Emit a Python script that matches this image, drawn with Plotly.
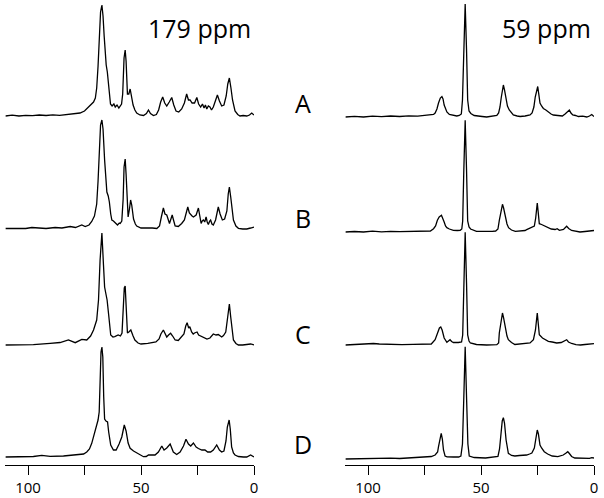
import plotly.graph_objects as go

# ---------------- data (ppm, intensity) ----------------
row_labels = ["A", "B", "C", "D"]
column_titles = ["179 ppm", "59 ppm"]
tick_vals = [0, 25, 50, 75, 100]
tick_text = ["0", "", "50", "", "100"]

left_A_ppm = [110, 107, 104, 101, 98, 95, 92, 89, 86, 83, 80, 77, 75, 73.5, 72.5, 71, 70.2, 69.6, 69, 68.4, 67.9, 67.3, 66.8, 66.3, 65.8, 65.4, 64.9, 64.4, 63.9, 63.5, 62.8, 62, 61.4, 60.6, 59.8, 59.2, 58.6, 58.1, 57.5, 57.0, 56.6, 56.0, 55.4, 54.8, 54.2, 53.5, 52.7, 51.9, 50.5, 48.9, 47.6, 46.7, 45.8, 44.5, 43.2, 42.2, 41.3, 40.4, 39.5, 38.6, 37.5, 36.4, 35.5, 34.5, 33.3, 32.0, 30.8, 29.8, 29.0, 28.3, 27.4, 26.3, 25.3, 24.5, 23.6, 22.8, 22.1, 21.5, 20.9, 20.2, 19.5, 18.8, 18.0, 17.0, 16.2, 15.3, 14.3, 13.3, 12.3, 11.6, 10.9, 10.2, 9.5, 8.4, 7.2, 6.2, 4.8, 3.2, 2.0, 1.0, 0]
left_A_int = [0, 0.8, 0, 0.7, 0.3, 1, 0.5, 1.2, 0.6, 1.5, 2, 3, 5, 8, 10, 14, 18, 28, 50, 83, 104, 111, 100, 80, 58, 51, 44, 32, 18, 12, 10, 12, 9, 11, 8, 10, 12, 22, 58, 66, 55, 22, 22, 27, 20, 11, 6, 3, 1, 0.5, 2.5, 6, 2.5, 0.5, 1.5, 6, 14, 19, 13, 10, 14, 18.5, 11, 5, 4, 7, 13, 22, 16, 16, 13, 13, 18.5, 12, 9, 12, 8, 11, 7, 10, 9, 6, 9, 15, 21, 15, 10, 11, 20, 32, 38, 28, 16, 5, 1.5, 0, 0.5, 0, 1, 3, 1]

left_B_ppm = [110, 107, 104, 101, 98.3, 95, 92, 88, 85, 81.3, 79, 76.2, 74.7, 73, 71.8, 70.6, 69.6, 69, 68.4, 67.9, 67.3, 66.8, 66.1, 65.5, 65.1, 64.5, 64, 63.4, 62.9, 62.2, 61.4, 60.4, 59.6, 59.2, 58.5, 57.9, 57.5, 57.0, 56.6, 56.1, 55.7, 55.1, 54.6, 54.1, 53.3, 52.5, 51.9, 50, 48, 46.7, 45, 43, 41.8, 41, 40.1, 39.4, 38.6, 37.4, 36.8, 36.2, 35.5, 34.9, 33.5, 32, 30.8, 30, 29.3, 28.6, 28.0, 27.4, 26.8, 25.6, 24.6, 23.9, 23.4, 22.9, 22.4, 21.8, 21.2, 20.7, 20.2, 19.6, 19.2, 18.6, 18, 17.0, 15.8, 15.0, 14.0, 13.0, 12.0, 11.4, 10.9, 10.3, 9.7, 9.1, 8.0, 6.9, 5, 3.2, 1.5, 0]
left_B_int = [0.5, 0.3, 0.8, 0.5, 1.5, 0.8, 0.5, 1.5, 1, 2.5, 1.5, 4, 2.5, 4, 7.5, 13, 25, 48, 82, 104, 109, 100, 69, 45, 37, 33, 27, 15, 9, 8, 6, 4, 6, 5.5, 8, 30, 62, 70, 55, 20, 12, 20, 29, 24, 10, 5, 3, 1, 1, 1.5, 1, 0.5, 3, 12, 21, 15, 14, 5.5, 10, 14, 8, 3, 2.5, 5.5, 9, 17, 22, 16, 14, 13, 12, 14, 21, 11, 5.5, 8, 9, 7, 12, 7, 4.5, 8, 9, 5, 4, 9, 22, 15, 9, 10, 18, 35, 42, 32, 18, 9, 3, 0.7, 0, 0, 1, 2]

left_C_ppm = [110, 103.5, 97.6, 90.2, 85.8, 82.1, 79.1, 76.2, 74, 72.3, 71.0, 69.6, 68.8, 68.1, 67.3, 66.6, 66.1, 65.6, 65.0, 64.3, 63.4, 62.4, 61.6, 60.1, 59.1, 58.4, 57.9, 57.4, 57.0, 56.5, 56.0, 55.4, 54.5, 53.5, 52.7, 51.3, 50, 47, 43.4, 42, 41.2, 40.1, 39.3, 38.6, 37.8, 36.9, 36.0, 34.9, 33.5, 32, 31, 30.2, 29.6, 28.9, 28.4, 27.6, 26.9, 26.3, 25.2, 24.5, 23.6, 22, 20.8, 19.5, 18.0, 16.8, 15.8, 14.3, 13.5, 12.5, 11.6, 10.9, 10.3, 9.6, 9.1, 8.0, 6.9, 5, 3.2, 1.5, 0]
left_C_int = [0, 0.5, 0.3, 1.7, 2.5, 5, 2.3, 5.7, 5, 9, 15, 25, 45, 85, 112, 80, 58, 52, 45, 30, 10, 8, 8.3, 10, 9, 12, 35, 57, 59, 25, 12, 13, 15, 9, 5, 2, 1, 1.7, 3, 6, 11, 15, 11, 8, 10, 11.7, 9, 5, 4.5, 8, 11, 19, 22.3, 17, 18.3, 13, 11, 12, 13, 10, 9, 7, 6, 7, 11, 10, 10.5, 8, 9.5, 13, 30, 41, 28, 12, 5, 1.5, 0, 0, 0.7, 1, 0]

left_D_ppm = [110, 103.4, 97.6, 93.9, 90.2, 84.3, 78.4, 75.4, 74.0, 72.8, 71.8, 70.6, 69.6, 69.0, 68.5, 68.1, 67.7, 67.3, 66.9, 66.5, 66.1, 65.5, 64.8, 64.3, 63.4, 62.2, 61.0, 59.7, 58.5, 57.4, 56.6, 55.7, 54.8, 53.3, 51.9, 50.4, 48.9, 47.7, 46.7, 45.2, 43.8, 42.3, 40.8, 39.8, 38.6, 37.1, 35.7, 34.2, 32.7, 31.2, 30.1, 29.0, 28.0, 26.8, 25.6, 24.6, 23.1, 21.7, 20.5, 19.2, 18.0, 16.5, 15.3, 14.3, 13.3, 12.4, 11.8, 11.0, 10.5, 9.9, 9.1, 8.4, 6.9, 4.7, 3.2, 1.5, 0]
left_D_int = [0, 0.5, 0.5, 1.7, 0.7, 1, 2, 3, 5, 8, 13.7, 25, 33, 37, 45, 75, 105, 110, 100, 60, 38, 36, 35, 25, 12, 7, 7, 13, 20, 32, 26, 14, 8.7, 6, 4.3, 2, 0.3, 0.5, 2, 2, 2, 5, 11, 7, 9, 13, 5, 2.5, 5, 11, 17.7, 13, 11, 14, 10, 8.5, 7, 7, 5, 5, 7, 12, 7, 5, 6, 16, 30, 37, 28, 10, 4, 2, 0.5, 0, 0, 2, 0]

right_A_ppm = [110, 106, 102, 98, 94, 90, 86, 82, 78, 75, 72.5, 71, 70.3, 69.5, 68.8, 68.0, 67.3, 66.8, 66.3, 65.6, 65.1, 64, 62.9, 61.8, 60.7, 59.6, 58.7, 58.2, 57.6, 57.0, 56.4, 55.9, 55.3, 54.5, 53, 51.9, 49.5, 47.5, 45, 43, 42.2, 41.6, 41, 40.4, 40.1, 39.6, 38.9, 38.3, 37.5, 36.6, 35.7, 34, 32.7, 30.5, 28.3, 27.4, 26.6, 26, 25.4, 24.9, 24.5, 23.9, 23.2, 22.4, 21.3, 20.2, 19, 18, 16.5, 15.8, 14, 12.8, 12.1, 11.3, 10.9, 10.2, 9.4, 8.2, 6.9, 5, 3.2, 2, 1, 0]
right_A_int = [0, 0.7, 0, 0.8, 0.3, 1, 0.5, 1.2, 0.8, 1.5, 1.5, 2.5, 4, 8, 14, 19, 20.5, 18, 12, 7, 5, 2.5, 2, 1.5, 1, 1.5, 3, 17, 67, 113, 67, 17, 6, 3.5, 1.5, 1, 0.5, 0, 0.5, 1.5, 4, 10, 20, 30, 32, 27, 18, 11, 7, 4, 2, 1, 0.5, 1, 2, 4, 10, 20, 28, 30.5, 24, 14, 11, 8.5, 7, 5, 3, 2, 1.5, 1, 1, 3, 4.5, 7, 7, 4, 2, 1.5, 0.5, 0.8, 0, 1, 2.5, 0.5]

right_B_ppm = [110, 106, 102, 98, 94, 90, 86, 82, 78, 74, 72.4, 71.0, 70.1, 69.3, 68.5, 67.5, 66.9, 66.3, 65.7, 65.1, 64, 62.2, 60.5, 59.2, 58.5, 58.1, 57.6, 57.0, 56.4, 55.9, 55.3, 54.6, 52, 50, 45, 43.5, 42.5, 41.9, 41.2, 40.5, 40.0, 39.3, 38.5, 37.8, 36.5, 34.8, 32, 30.5, 29.8, 28.5, 27.6, 26.4, 25.8, 25.1, 24.7, 24.2, 23.2, 22.4, 21.5, 20.2, 18.9, 17.2, 16.3, 15.3, 13.5, 12.1, 11.2, 9.9, 8.5, 6.2, 4, 1.8, 0]
right_B_int = [0, 0.5, 0, 0.8, 0.2, 0.7, 0.3, 0.5, 0.2, 0.8, 1, 3.3, 6, 11.7, 15, 16.7, 14, 10, 6, 4.3, 3, 1.7, 1.5, 1.7, 3, 11, 62, 111.7, 62, 11, 5, 3, 0.7, 0.5, 0.7, 1, 3, 11.7, 21, 27.7, 24, 15, 8, 4.3, 2, 0.7, 1, 1.5, 2.3, 3.5, 5, 6, 14, 29, 20, 8.3, 7.5, 6.7, 5.5, 4.3, 3, 2.5, 3.3, 1.7, 2.5, 5.7, 3.5, 1.5, 0.8, 0, 0.5, 1, 1.5]

right_C_ppm = [110, 106, 102, 97.6, 95, 90, 85, 80, 75, 72, 70.3, 69.3, 68.4, 67.8, 67.2, 66.3, 65.5, 65.1, 64.4, 63.7, 63, 62.2, 60, 58.6, 58.1, 57.6, 57.0, 56.4, 55.9, 55.3, 54.7, 52, 47.5, 43, 42.2, 41.9, 41.2, 40.5, 40.0, 39.3, 38.5, 37.9, 36.5, 35, 31, 28.3, 26.8, 25.9, 25.1, 24.6, 24.2, 22.8, 21.5, 20.2, 18.5, 16.5, 14.5, 12.8, 12.1, 11.3, 9.9, 8, 6, 4, 2, 0]
right_C_int = [0, 0.5, 0.3, 1.5, 1, 0.5, 0.3, 0.7, 0.8, 1, 5.3, 11, 17, 18, 15, 7, 3.5, 2.7, 4, 5.3, 3.5, 2.5, 2.5, 3, 10, 62, 112.7, 62, 10, 4, 2, 0.5, 0, 0.3, 2, 12, 22, 32, 27, 17, 9, 5.3, 2.5, 0.5, 1, 2, 5.3, 15, 32, 22, 10.3, 7, 5.5, 3.7, 3, 2, 2.5, 4, 5.3, 3, 1.5, 0.3, 0, 0.5, 1, 1.3]

right_D_ppm = [110, 106, 102, 98, 94, 90, 86, 82, 78, 74, 72, 70.3, 69.2, 68.8, 68.2, 67.6, 67.1, 66.6, 65.9, 65, 62.2, 59.9, 58.9, 58.2, 57.6, 57.0, 56.4, 55.8, 55.2, 53, 48, 44.5, 42.5, 41.8, 41.2, 40.6, 40.1, 39.6, 38.9, 38.3, 37.9, 36.5, 35, 33, 31.2, 29.8, 28.5, 27.5, 26.4, 25.8, 25.1, 24.6, 23.9, 23.2, 22.0, 20.5, 18.5, 16, 13.6, 12.5, 11.6, 10.9, 9.9, 8.5, 5, 2, 1, 0]
right_D_int = [0, 0.3, 0, 0.7, 0.5, 0.8, 0.5, 1, 1, 1.7, 2.5, 4, 7, 12.3, 20, 25.7, 20, 9, 3, 2.2, 2, 2, 3, 15, 62, 112.3, 62, 15, 3, 1.5, 1, 1.5, 2.5, 10, 25, 38, 41.3, 36, 19, 10, 5.7, 3.5, 3, 3.5, 3.5, 4, 5, 6, 11, 20, 29, 25, 14, 11, 7.3, 5, 3, 2.3, 4, 5.7, 7.3, 5.5, 2.5, 1, 0.5, 0.7, 1.3, 1]

# ---------------- figure ----------------
left = [(left_A_ppm, left_A_int), (left_B_ppm, left_B_int), (left_C_ppm, left_C_int), (left_D_ppm, left_D_int)]
right = [(right_A_ppm, right_A_int), (right_B_ppm, right_B_int), (right_C_ppm, right_C_int), (right_D_ppm, right_D_int)]
left_offsets = [349, 236, 120, 8]
right_offsets = [348, 233, 120, 6]

FONT = "Open Sans"
LINE = dict(color="black", width=1.3)

fig = go.Figure()
for (px, iv), off in zip(left, left_offsets):
    fig.add_trace(go.Scatter(x=px, y=[v + off for v in iv], mode="lines", line=LINE,
                             xaxis="x", yaxis="y", showlegend=False, hoverinfo="skip"))
for (px, iv), off in zip(right, right_offsets):
    fig.add_trace(go.Scatter(x=px, y=[v + off for v in iv], mode="lines", line=LINE,
                             xaxis="x2", yaxis="y", showlegend=False, hoverinfo="skip"))

W, H = 604, 498
axis_common = dict(range=[110, 0], showgrid=False, zeroline=False, showline=True,
                   linecolor="black", linewidth=1.3, ticks="outside", ticklen=9,
                   tickwidth=1.3, tickcolor="black", tickvals=tick_vals, ticktext=tick_text,
                   tickfont=dict(family=FONT, size=15, color="black"), anchor="y",
                   automargin=False)
fig.update_layout(
    width=W, height=H,
    margin=dict(l=0, r=0, t=0, b=33, pad=0, autoexpand=False),
    paper_bgcolor="white", plot_bgcolor="white",
    xaxis=dict(domain=[5.4 / W, 254 / W], **axis_common),
    xaxis2=dict(domain=[345.4 / W, 594 / W], **axis_common),
    yaxis=dict(range=[0, 465], visible=False, fixedrange=True, automargin=False),
)

ann = []
ann.append(dict(text=column_titles[0], x=0.4, y=437, xref="x", yref="y", xanchor="right",
                yanchor="middle", showarrow=False, font=dict(family=FONT, size=25, color="black")))
ann.append(dict(text=column_titles[1], x=0.4, y=437, xref="x2", yref="y", xanchor="right",
                yanchor="middle", showarrow=False, font=dict(family=FONT, size=25, color="black")))
for lab, yy in zip(row_labels, [362, 247, 131, 21]):
    ann.append(dict(text=lab, x=303 / W, y=yy, xref="paper", yref="y", xanchor="center",
                    yanchor="middle", showarrow=False, font=dict(family=FONT, size=25, color="black")))
fig.update_layout(annotations=ann)

# the page's default 8px body margin would push the 604x498 figure off the window
fig.write_html("out.html", config={"displayModeBar": False},
               post_script="document.body.style.margin='0';document.body.style.overflow='hidden';")
